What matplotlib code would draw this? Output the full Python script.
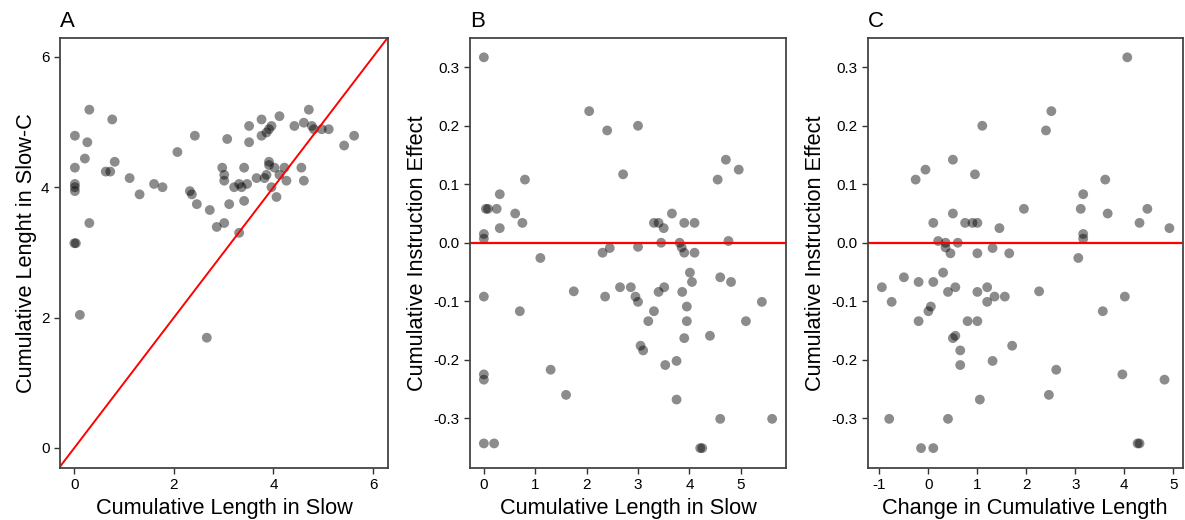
import numpy as np
import matplotlib
matplotlib.use('Agg')
import matplotlib.pyplot as plt

plt.rcParams['font.family'] = ['Liberation Sans', 'DejaVu Sans']
plt.rcParams['axes.unicode_minus'] = False

# Panel A: cumulative length in Slow vs Slow-C
slow_a = [0.01, 0.01, 0.01, 0.01, 0.01, 0.0, 0.03, 0.30, 0.26, 0.21, 0.30, 0.63, 0.72,
          0.76, 0.81, 1.11, 1.31, 1.60, 1.77, 2.07, 2.32, 2.36, 2.42, 2.46, 2.72, 2.86,
          3.01, 3.31, 2.97, 3.01, 3.01, 3.07, 3.21, 3.31, 3.36, 3.47, 3.11, 3.41, 3.41,
          3.51, 3.51, 3.66, 3.76, 3.76, 3.82, 3.86, 3.86, 3.91, 3.96, 3.91, 3.91, 3.96,
          4.02, 4.06, 4.12, 4.12, 4.22, 4.26, 4.42, 4.56, 4.61, 4.61, 4.71, 4.77, 4.81,
          4.97, 5.11, 5.42, 5.62, 0.11, 2.66]
slowc_a = [4.79, 4.30, 4.05, 4.00, 3.94, 3.14, 3.14, 5.19, 4.69, 4.44, 3.45, 4.24, 4.24,
           5.04, 4.39, 4.14, 3.89, 4.05, 4.00, 4.54, 3.94, 3.89, 4.79, 3.74, 3.65, 3.39,
           3.45, 3.30, 4.30, 4.19, 4.10, 4.74, 4.00, 4.05, 4.00, 4.05, 3.74, 4.30, 3.79,
           4.94, 4.69, 4.14, 5.04, 4.79, 4.14, 4.19, 4.84, 4.89, 4.94, 4.39, 4.34, 4.00,
           4.30, 3.85, 4.19, 5.09, 4.30, 4.10, 4.94, 4.30, 4.10, 4.99, 5.19, 4.94, 4.89,
           4.89, 4.89, 4.64, 4.79, 2.04, 1.69]

# Panel B: cumulative length in Slow vs instruction effect
slow_b = [0.0, 0.0, 0.0, 0.04, 0.08, 0.25, 0.31, 0.31, 0.61, 0.75, 0.80, 2.05, 2.40, 3.0,
          2.71, 4.55, 4.71, 4.96, 3.31, 3.40, 3.50, 3.66, 3.45, 3.81, 3.90, 4.10, 4.76,
          2.31, 2.45, 3.0, 3.85, 3.90, 4.10, 1.10, 0.0, 0.70, 1.75, 1.30, 1.60, 0.0, 0.0,
          0.0, 0.20, 2.65, 2.86, 2.36, 2.95, 3.0, 3.31, 3.20, 3.40, 3.51, 3.05, 3.10, 3.53,
          3.75, 3.75, 3.86, 4.01, 4.05, 3.95, 3.95, 3.90, 4.40, 4.60, 4.81, 5.41, 5.10,
          4.60, 5.61, 4.21, 4.25]
effect_b = [0.317, 0.015, 0.007, 0.058, 0.058, 0.058, 0.083, 0.025, 0.050, 0.034, 0.108,
            0.225, 0.192, 0.200, 0.117, 0.108, 0.142, 0.125, 0.034, 0.034, 0.025, 0.050,
            0.0, 0.0, 0.034, 0.034, 0.003, -0.017, -0.009, -0.007, -0.008, -0.017, -0.017,
            -0.026, -0.092, -0.117, -0.083, -0.217, -0.260, -0.225, -0.234, -0.343, -0.343,
            -0.076, -0.076, -0.092, -0.092, -0.101, -0.117, -0.134, -0.084, -0.076, -0.176,
            -0.184, -0.209, -0.202, -0.268, -0.084, -0.051, -0.067, -0.109, -0.134, -0.163,
            -0.159, -0.059, -0.067, -0.101, -0.134, -0.301, -0.301, -0.351, -0.351]

# Panel C: change in cumulative length vs instruction effect
change_c = [4.06, 2.51, 2.40, 1.10, 0.50, 0.95, -0.06, -0.26, 3.61, 3.16, 3.11, 1.95, 4.47,
            0.50, 3.66, 0.10, 0.75, 0.90, 1.0, 4.31, 1.45, 4.92, 3.16, 3.16, 0.20, 0.35,
            0.60, 0.35, 0.45, 1.0, 1.31, 1.65, 3.06, -0.95, -0.75, -0.50, -0.20, 0.10, 0.30,
            0.40, 0.55, 1.0, 1.20, 1.20, 1.35, 1.56, 2.26, 4.01, 3.56, 0.0, 0.05, -0.20,
            0.80, 1.0, 0.50, 0.55, 0.65, 0.65, 1.71, 1.31, 2.61, 2.46, 3.96, 4.82, 1.05,
            -0.80, 0.40, -0.15, 0.10, 4.27, 4.31]
effect_c = [0.317, 0.225, 0.192, 0.200, 0.142, 0.117, 0.125, 0.108, 0.108, 0.083, 0.058,
            0.058, 0.058, 0.050, 0.050, 0.034, 0.034, 0.034, 0.034, 0.034, 0.025, 0.025,
            0.015, 0.007, 0.003, 0.0, 0.0, -0.008, -0.018, -0.018, -0.009, -0.018, -0.026,
            -0.076, -0.101, -0.059, -0.067, -0.067, -0.051, -0.084, -0.076, -0.084, -0.076,
            -0.101, -0.092, -0.092, -0.083, -0.092, -0.117, -0.117, -0.109, -0.134, -0.134,
            -0.134, -0.163, -0.159, -0.184, -0.209, -0.176, -0.202, -0.217, -0.260, -0.225,
            -0.234, -0.268, -0.301, -0.301, -0.351, -0.351, -0.343, -0.343]

fig = plt.figure(figsize=(11.85, 5.2), dpi=100)
axA = fig.add_axes([0.0506, 0.10, 0.2768, 0.8269])
axB = fig.add_axes([0.3966, 0.10, 0.2667, 0.8269])
axC = fig.add_axes([0.7322, 0.10, 0.2658, 0.8269])

dot = dict(s=50, color='black', alpha=0.45, edgecolors='none')

for ax in (axA, axB, axC):
    for sp in ax.spines.values():
        sp.set_color('#444444')
        sp.set_linewidth(1.3)
    ax.tick_params(direction='out', length=4, width=1, color='#333333',
                   labelsize=11, labelcolor='black')

# A
axA.scatter(slow_a, slowc_a, **dot)
axA.plot([-0.29, 6.3], [-0.29, 6.3], color='red', lw=1.4)
axA.set_xlim(-0.29, 6.3)
axA.set_ylim(-0.31, 6.29)
axA.set_xticks([0, 2, 4, 6])
axA.set_yticks([0, 2, 4, 6])
axA.set_xlabel('Cumulative Length in Slow', fontsize=15.7)
axA.set_ylabel('Cumulative Lenght in Slow-C', fontsize=15.7, labelpad=3)
axA.set_title('A', loc='left', fontsize=16, pad=8)

# B
axB.scatter(slow_b, effect_b, **dot)
axB.axhline(0, color='red', lw=1.6)
axB.set_xlim(-0.27, 5.88)
axB.set_ylim(-0.385, 0.35)
axB.set_xticks([0, 1, 2, 3, 4, 5])
axB.set_yticks([-0.3, -0.2, -0.1, 0.0, 0.1, 0.2, 0.3])
axB.set_yticklabels(['-0.3', '-0.2', '-0.1', '0.0', '0.1', '0.2', '0.3'])
axB.set_xlabel('Cumulative Length in Slow', fontsize=15.7)
axB.set_ylabel('Cumulative Instruction Effect', fontsize=15.7)
axB.set_title('B', loc='left', fontsize=16, pad=8)

# C
axC.scatter(change_c, effect_c, **dot)
axC.axhline(0, color='red', lw=1.6)
axC.set_xlim(-1.24, 5.19)
axC.set_ylim(-0.385, 0.35)
axC.set_xticks([-1, 0, 1, 2, 3, 4, 5])
axC.set_yticks([-0.3, -0.2, -0.1, 0.0, 0.1, 0.2, 0.3])
axC.set_yticklabels(['-0.3', '-0.2', '-0.1', '0.0', '0.1', '0.2', '0.3'])
axC.set_xlabel('Change in Cumulative Length', fontsize=15.7)
axC.set_ylabel('Cumulative Instruction Effect', fontsize=15.7)
axC.set_title('C', loc='left', fontsize=16, pad=8)

fig.savefig('out.png', dpi=100)
